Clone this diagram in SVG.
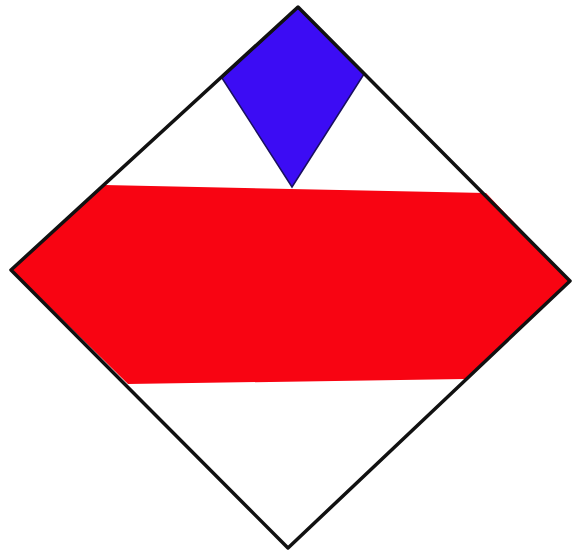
<svg xmlns="http://www.w3.org/2000/svg" width="574" height="555" viewBox="0 0 574 555">
<style>
.outline{fill:none;stroke:#111;stroke-width:3.5;stroke-linejoin:round}
</style>
<rect width="574" height="555" fill="#fff"/>
<polygon id="red-band" points="12,270 104,185 486,193 570,281 465,379 128,384" fill="#f80412"/>
<polygon id="blue-kite" points="298,8 222,78 292,187 364,74" fill="#3c0cf4" stroke="#1a1060" stroke-width="1.5"/>
<polygon id="diamond" class="outline" points="298,7 570,281 288,548 11,270"/>
</svg>
